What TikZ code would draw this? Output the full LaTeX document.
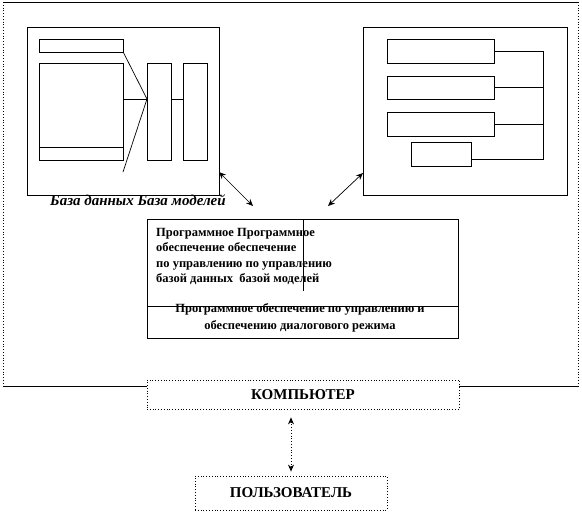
\documentclass[tikz,border=0pt]{standalone}
\usepackage{fontspec}
\setmainfont{Liberation Serif}
\usetikzlibrary{positioning,arrows.meta}

\begin{document}
\begin{tikzpicture}[x=1pt, y=-1pt, >={Stealth[length=7pt,width=6pt]},
		b/.style={draw, rectangle, inner sep=0pt, line width=0.7pt},
		dots/.style={draw, rectangle, dotted, inner sep=0pt, line width=0.8pt, fill=white},
		lbl/.style={font=\bfseries\fontsize{12.5}{15.5}\selectfont}]
		\useasboundingbox (0,0) rectangle (582,515);

		% outer frame
		\coordinate (o1) at (3,2);
		\coordinate (o2) at (578,2);
		\coordinate (o3) at (578,386);
		\coordinate (o4) at (3,386);
		\draw[line width=0.8pt] (o1) -- (o2);
		\draw[dotted, line width=0.8pt] (o2) -- (o3);
		\draw[dotted, line width=0.8pt] (o1) -- (o4);
		\draw[line width=0.8pt] (o4) -- (o3);

		% database and model base
		\node[b, minimum width=192, minimum height=168] (frameL) at (123,111) {};
		\node[b, minimum width=84, minimum height=13] (dbTitle) at (81,45.5) {};
		\node[b, minimum width=84, minimum height=97] (dbMain) at (81,111.5) {};
		\node[b, minimum width=84, minimum height=13] (dbStrip) at (81,153.5) {};
		\node[b, minimum width=24, minimum height=97] (colA) at (159,111.5) {};
		\node[b, minimum width=24, minimum height=97, right=12 of colA] (colB) {};
		\coordinate (hub) at (147,99);
		\coordinate (tail) at (123,172);
		\draw[line width=0.7pt] (dbTitle.south east) -- (hub) -- (tail);
		\draw[line width=0.7pt] (dbMain.east |- hub) -- (hub);
		\draw[line width=0.7pt] (colA.east |- hub) -- (colB.west |- hub);
		\node[font=\bfseries\itshape\fontsize{15}{16}\selectfont] (dbLabel) at (138,200) {База данных База моделей};

		% right block
		\node[b, minimum width=204, minimum height=168] (frameR) at (465,111) {};
		\node[b, minimum width=107, minimum height=24] (m1) at (440.5,51) {};
		\node[b, minimum width=107, minimum height=23] (m2) at (440.5,87.5) {};
		\node[b, minimum width=107, minimum height=24] (m3) at (440.5,124) {};
		\node[b, minimum width=60, minimum height=24] (m4) at (441,154) {};
		\coordinate (bus) at (543,51);
		\coordinate (m4tap) at (471,159);
		\draw[line width=0.7pt] (m1.east) -- (bus) -- (bus |- m4tap) -- (m4tap);
		\draw[line width=0.7pt] (m2.east) -- (bus |- m2.east);
		\draw[line width=0.7pt] (m3.east) -- (bus |- m3.east);

		% software block
		\node[b, minimum width=311, minimum height=119] (soft) at (302.5,278.5) {};
		\coordinate (divL) at (147,306);
		\coordinate (divR) at (458,306);
		\draw[line width=0.7pt] (divL) -- (divR);
		\draw[line width=0.7pt] (303,219) -- (303,291);
		\node[lbl, align=left, anchor=north west, inner sep=0pt] (softTop) at (156,228)
			{Программное Программное\\обеспечение обеспечение\\по управлению по управлению\\базой данных\ \ базой моделей};
		\node[lbl, align=center, inner sep=0pt, font=\bfseries\fontsize{12.5}{17}\selectfont] (softBot) at (300,318)
			{Программное обеспечение по управлению и\\обеспечению диалогового режима};

		% arrows to the software block
		\coordinate (aL1) at (219,172);
		\coordinate (aL2) at (253,206);
		\coordinate (aR1) at (363,173);
		\coordinate (aR2) at (328,206);
		\path[<->, line width=0.7pt] (aL1) edge (aL2);
		\path[<->, line width=0.7pt] (aR1) edge (aR2);

		% computer and user
		\node[dots, minimum width=312, minimum height=29, font=\bfseries\fontsize{15}{17}\selectfont] (comp) at (303,394.5) {КОМПЬЮТЕР};
		\node[dots, minimum width=192, minimum height=34, font=\bfseries\fontsize{15}{17}\selectfont] (user) at (291,493) {ПОЛЬЗОВАТЕЛЬ};
		\path[<->, dotted, line width=0.8pt, shorten <=4pt, shorten >=8pt] (user.north) edge (user.north |- comp.south);
	\end{tikzpicture}
\end{document}
